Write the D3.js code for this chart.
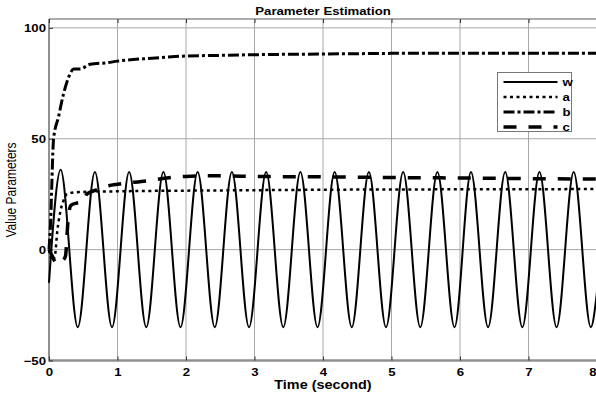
<!DOCTYPE html>
<html>
<head>
<meta charset="utf-8">
<script src="https://cdn.jsdelivr.net/npm/d3@7"></script>
<style>
  html, body { margin: 0; padding: 0; background: #fff; }
  svg { display: block; font-family: "Liberation Sans", Arial, Helvetica, sans-serif; }
</style>
</head>
<body>
<div id="chart"></div>
<script>
// values
const xTicks = [0, 1, 2, 3, 4, 5, 6, 7, 8];
const yTicks = [-50, 0, 50, 100];
const seriesNames = ['w', 'a', 'b', 'c'];

// w: extrema of the oscillation (peaks / troughs)
const wTime = [0, 0.17, 0.42, 0.67, 0.92, 1.17, 1.42, 1.67, 1.92, 2.17, 2.42, 2.67, 2.92, 3.17, 3.42, 3.67, 3.92,
  4.17, 4.42, 4.67, 4.92, 5.17, 5.42, 5.67, 5.92, 6.16, 6.41, 6.66, 6.91, 7.16, 7.41, 7.66, 7.91, 8.0];
const wValue = [-15, 36, -35, 35, -35, 35, -35, 35, -35, 35, -35, 35, -35, 35, -35, 35, -35,
  35, -35, 35, -35, 35, -35, 35, -35, 35, -35, 35, -35, 35, -35, 35, -35, -19];

const aTime = [0, 0.05, 0.09, 0.12, 0.165, 0.21, 0.26, 0.36, 0.5, 1, 2, 3, 4, 6, 8];
const aValue = [0, -5, -2, 8, 17, 22, 25, 25.8, 26, 26.3, 26.6, 26.8, 27, 27.2, 27.3];

const bTime = [0, 0.02, 0.067, 0.14, 0.21, 0.29, 0.36, 0.46, 0.6, 0.85, 1.0, 1.5, 2, 2.5, 3, 4, 5, 6, 7, 8];
const bValue = [0, 10, 50, 60, 70, 78, 81.4, 81.5, 83.6, 84.3, 85, 86.3, 87.3, 87.6, 87.9, 88.2, 88.5, 88.6, 88.5, 88.5];

const cTime = [0, 0.05, 0.1, 0.15, 0.2, 0.24, 0.28, 0.32, 0.4, 0.5, 0.55, 0.7, 0.87, 1.0, 1.43, 1.72, 2.0, 2.5, 3, 4, 5, 6, 7, 8];
const cValue = [0, -3, -6, -6.5, -5, -3, 14, 20, 21, 21.5, 25, 27, 28.8, 29.5, 31, 32.3, 33, 33.3, 33, 32.8, 32.5, 32.3, 32, 31.8];

const width = 596, height = 396;
const sx = 1.2; // reference text is stretched horizontally

const series = [
  { name: seriesNames[0], t: wTime, v: wValue, dash: null, lw: 2 },
  { name: seriesNames[1], t: aTime, v: aValue, dash: '3,3.5', lw: 2.5 },
  { name: seriesNames[2], t: bTime, v: bValue, dash: '11,3,3,3', lw: 3 },
  { name: seriesNames[3], t: cTime, v: cValue, dash: '13,12', lw: 3.5 }
];

const x = d3.scaleLinear().domain([0, 8]).range([49, 597]);
const y = d3.scaleLinear().domain([-50, 104]).range([360.5, 19]);

const svg = d3.select('#chart').append('svg')
  .attr('width', width)
  .attr('height', height)
  .attr('viewBox', [0, 0, width, height]);

// grid
const grid = svg.append('g');
grid.selectAll('line.vx').data(xTicks).join('line')
  .attr('x1', d => x(d)).attr('x2', d => x(d))
  .attr('y1', y.range()[1]).attr('y2', y.range()[0])
  .attr('stroke', '#a8a8a8').attr('stroke-width', 1);
grid.selectAll('line.hy').data(yTicks).join('line')
  .attr('x1', x.range()[0]).attr('x2', x.range()[1])
  .attr('y1', d => y(d)).attr('y2', d => y(d))
  .attr('stroke', '#a8a8a8').attr('stroke-width', 1);

// frame
svg.append('line').attr('x1', 49).attr('x2', 597).attr('y1', 19).attr('y2', 19)
  .attr('stroke', '#909090').attr('stroke-width', 1.5);
svg.append('line').attr('x1', 49).attr('x2', 597).attr('y1', 360.5).attr('y2', 360.5)
  .attr('stroke', '#909090').attr('stroke-width', 2.5);
svg.append('line').attr('x1', 49).attr('x2', 49).attr('y1', 19).attr('y2', 361.5)
  .attr('stroke', '#909090').attr('stroke-width', 2);

// axes (inward ticks)
const xAxis = svg.append('g')
  .attr('transform', `translate(0,${y.range()[0]})`)
  .call(d3.axisBottom(x).tickValues(xTicks).tickSize(-4).tickFormat(d3.format('d')));
xAxis.select('.domain').remove();
xAxis.selectAll('.tick line').attr('stroke', '#333');
xAxis.selectAll('.tick text')
  .attr('y', 8).attr('dy', '0.71em')
  .attr('transform', `scale(${sx},1)`)
  .style('font-size', '11px').style('font-weight', 'bold').attr('fill', '#000');
// last label sits at the right edge of the picture
xAxis.selectAll('.tick text').filter(d => d === 8)
  .attr('text-anchor', 'end').attr('x', -1 / sx);

const xAxisTop = svg.append('g')
  .attr('transform', `translate(0,${y.range()[1]})`)
  .call(d3.axisTop(x).tickValues(xTicks).tickSize(-4).tickFormat(''));
xAxisTop.select('.domain').remove();
xAxisTop.selectAll('.tick line').attr('stroke', '#333');

const yAxis = svg.append('g')
  .attr('transform', `translate(${x.range()[0]},0)`)
  .call(d3.axisLeft(y).tickValues(yTicks).tickSize(-4).tickFormat(d3.format('d')));
yAxis.select('.domain').remove();
yAxis.selectAll('.tick line').attr('stroke', '#333');
yAxis.selectAll('.tick text')
  .attr('x', -3 / sx).attr('dy', '0.35em')
  .attr('transform', `scale(${sx},1)`)
  .style('font-size', '11px').style('font-weight', 'bold').attr('fill', '#000');

// lines
const line = d3.line()
  .x(d => x(d[0]))
  .y(d => y(d[1]))
  .curve(d3.curveMonotoneX);

svg.append('g').selectAll('path')
  .data(series)
  .join('path')
  .attr('d', s => line(s.t.map((t, i) => [t, s.v[i]])))
  .attr('fill', 'none')
  .attr('stroke', '#000')
  .attr('stroke-width', s => s.lw)
  .attr('stroke-dasharray', s => s.dash)
  .attr('stroke-linejoin', 'round');

// legend
const legend = svg.append('g').attr('transform', 'translate(497.5,72.5)');
legend.append('rect')
  .attr('width', 74).attr('height', 59)
  .attr('fill', '#fff').attr('stroke', '#777').attr('stroke-width', 1);
const items = legend.selectAll('g.item')
  .data(series)
  .join('g')
  .attr('transform', (s, i) => `translate(0,${9.5 + i * 15})`);
items.append('line')
  .attr('x1', 6).attr('x2', 60)
  .attr('stroke', '#000')
  .attr('stroke-width', s => s.lw)
  .attr('stroke-dasharray', s => s.dash);
items.append('text')
  .attr('transform', `translate(65,0) scale(${sx},1)`)
  .attr('dy', '0.35em')
  .style('font-size', '11px').style('font-weight', 'bold')
  .text(s => s.name);

// title and labels
svg.append('text')
  .attr('transform', `translate(323,14.5) scale(${sx},1)`)
  .attr('text-anchor', 'middle')
  .style('font-size', '11px').style('font-weight', 'bold')
  .text('Parameter Estimation');

svg.append('text')
  .attr('transform', `translate(323,389) scale(${sx},1)`)
  .attr('text-anchor', 'middle')
  .style('font-size', '12px').style('font-weight', 'bold')
  .text('Time (second)');

svg.append('text')
  .attr('transform', `translate(16,190) scale(${sx},1) rotate(-90)`)
  .attr('text-anchor', 'middle')
  .style('font-size', '12px')
  .text('Value Parameters');
</script>
</body>
</html>
